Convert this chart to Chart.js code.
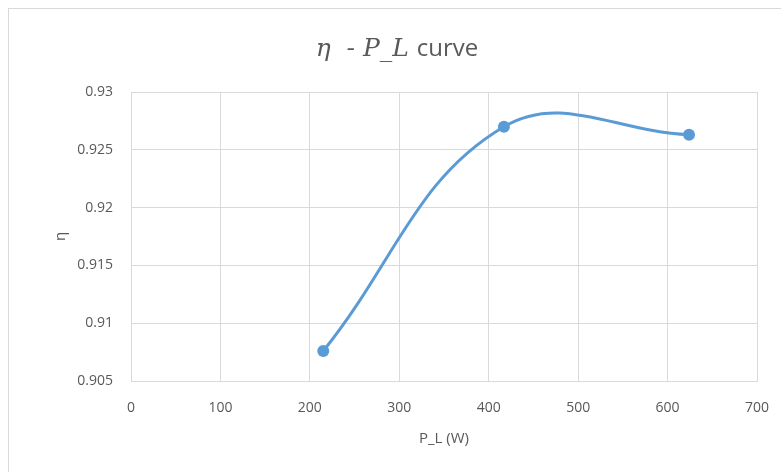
<!DOCTYPE html>
<html>
<head>
<meta charset="utf-8">
<script src="https://cdn.jsdelivr.net/npm/chart.js@4.4.1/dist/chart.umd.min.js"></script>
<style>
  html, body { margin: 0; padding: 0; background: #fff; }
  #wrap { width: 781px; height: 472px; position: relative; }
</style>
</head>
<body>
<div id="wrap"><canvas id="chart" width="781" height="472"></canvas></div>
<script>
// data
const loadPower = [215, 417, 624];
const efficiency = [0.9076, 0.9270, 0.9263];
const xTicks = [0, 100, 200, 300, 400, 500, 600, 700];
const yTicks = [0.905, 0.91, 0.915, 0.92, 0.925, 0.93];

const font = "'Open Sans', 'Liberation Sans', sans-serif";
const grey = '#595959';

// frame + mixed-style title (italic math part, plain "curve")
const decor = {
    id: 'decor',
    beforeDraw(chart) {
        const ctx = chart.ctx;
        ctx.save();
        ctx.strokeStyle = '#d9d9d9';
        ctx.lineWidth = 1;
        ctx.strokeRect(8.5, 8.5, 800, 500);
        ctx.restore();
    },
    afterDraw(chart) {
        const ctx = chart.ctx;
        const parts = [
            { text: 'η  - P_L ', font: "italic 25px 'DejaVu Serif', 'Liberation Serif', serif" },
            { text: 'curve', font: "24px " + font }
        ];
        ctx.save();
        ctx.fillStyle = grey;
        ctx.textBaseline = 'alphabetic';
        let total = 0;
        parts.forEach(p => { ctx.font = p.font; p.w = ctx.measureText(p.text).width; total += p.w; });
        let x = 397 - total / 2;
        parts.forEach(p => { ctx.font = p.font; ctx.fillText(p.text, x, 56); x += p.w; });
        ctx.restore();
    }
};

new Chart(document.getElementById('chart'), {
    type: 'line',
    data: {
        datasets: [{
            data: loadPower.map((x, i) => ({ x: x, y: efficiency[i] })),
            borderColor: '#5b9bd5',
            backgroundColor: '#5b9bd5',
            borderWidth: 3,
            pointRadius: 6,
            pointBorderWidth: 0,
            tension: 0.4
        }]
    },
    options: {
        responsive: false,
        animation: false,
        layout: { padding: { top: 92, right: 24, left: 48, bottom: 20 } },
        plugins: { legend: { display: false }, tooltip: { enabled: false }, title: { display: false } },
        scales: {
            x: {
                type: 'linear',
                min: 0, max: 700,
                afterBuildTicks: s => { s.ticks = xTicks.map(v => ({ value: v })); },
                afterFit: s => { s.height = 71; s.paddingRight = 0; },
                grid: { color: '#d9d9d9', drawTicks: false },
                border: { color: '#d9d9d9' },
                ticks: { color: grey, font: { family: font, size: 14 }, padding: 19 },
                title: { display: true, text: 'P_L (W)', color: grey, font: { family: font, size: 15 } }
            },
            y: {
                min: 0.905, max: 0.93,
                afterBuildTicks: s => { s.ticks = yTicks.map(v => ({ value: v })); },
                afterFit: s => { s.width = 83; },
                grid: { color: '#d9d9d9', drawTicks: false },
                border: { color: '#d9d9d9' },
                ticks: { color: grey, font: { family: font, size: 14 }, padding: 18,
                    callback: v => String(+v.toFixed(3)) },
                title: { display: true, text: 'η', color: grey, font: { family: font, size: 15 } }
            }
        }
    },
    plugins: [decor]
});
</script>
</body>
</html>
